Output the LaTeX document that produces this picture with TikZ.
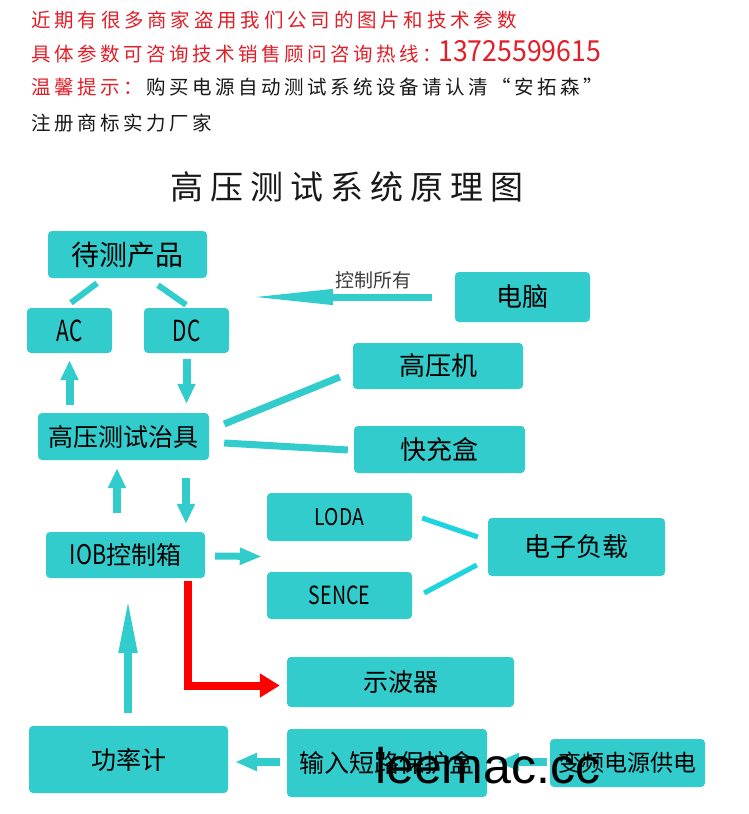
\documentclass[tikz,border=0pt]{standalone}
\usepackage{fontspec}
\setmainfont{Noto Sans CJK SC}
\newfontfamily\wmfont{Liberation Sans}
\usetikzlibrary{arrows.meta,calc}
\definecolor{boxc}{RGB}{51,204,204}
\definecolor{linec}{RGB}{51,204,204}
\definecolor{brightc}{RGB}{30,212,222}
\definecolor{hdrred}{RGB}{226,30,40}
\definecolor{txtc}{RGB}{25,25,25}
\definecolor{lblc}{RGB}{60,60,60}
\newcommand\fsz[1]{\fontsize{#1pt}{#1pt}\selectfont}
\newcommand\narrow[2]{\scalebox{#1}[1]{#2}}
\makeatletter
\newcommand\spacedtext[2]{\@tfor\spch:=#2\do{\makebox[#1][l]{\spch}}}
\makeatother
\tikzset{
  box/.style={fill=boxc, rounded corners=4pt, inner sep=0pt, text=black, font=\fsz{25}},
  hdr/.style={anchor=base west, inner sep=0pt, font=\fsz{19.5}},
  fat/.style={line width=8pt, draw=linec},
  bar/.style={line width=7pt, draw=linec},
  thinbar/.style={line width=5pt, draw=brightc},
  headv/.style={-{Triangle[length=20pt,width=17pt]}},
}
\begin{document}
\begin{tikzpicture}[x=1pt,y=-1pt]
\fill[white] (0,0) rectangle (749,814);
\useasboundingbox (0,0) rectangle (749,814);

% header
\node[hdr, text=hdrred] (h1) at (31,27) {\spacedtext{23.3pt}{近期有很多商家盗用我们公司的图片和技术参数}};
\node[hdr, text=hdrred] (h2) at (31,61) {\spacedtext{23pt}{具体参数可咨询技术销售顾问咨询热线}\makebox[16pt][l]{：}{\fsz{29}\narrow{0.92}{13725599615}}};
\node[hdr] (h3) at (31,94) {\textcolor{hdrred}{\spacedtext{23pt}{温馨提示：}}\textcolor{txtc}{\spacedtext{23pt}{购买电源自动测试系统设备请认清“安拓森”}}};
\node[hdr, text=txtc] (h4) at (31,130) {\spacedtext{23pt}{注册商标实力厂家}};
\node[anchor=base west, inner sep=0pt, font=\fsz{33}, text=txtc] (title) at (170,199) {\spacedtext{40pt}{高压测试系统原理图}};

% boxes
\node[box, minimum width=159pt, minimum height=47pt, font=\fsz{28}] (p) at (127.5,254.5) {待测产品};
\node[box, minimum width=85pt, minimum height=45pt, font=\fsz{29}] (ac) at (69.5,330.5) {\narrow{0.72}{AC}};
\node[box, minimum width=85pt, minimum height=45pt, font=\fsz{29}] (dc) at (186.5,330.5) {\narrow{0.72}{DC}};
\node[box, minimum width=135pt, minimum height=50pt, font=\fsz{26}] (pc) at (522.5,297) {电脑};
\node[box, minimum width=170pt, minimum height=46pt, font=\fsz{26}] (hv) at (438,366) {高压机};
\node[box, minimum width=171pt, minimum height=47pt] (fix) at (123.5,436.5) {高压测试治具};
\node[box, minimum width=171pt, minimum height=47pt, font=\fsz{26}] (fc) at (439.5,449.5) {快充盒};
\node[box, minimum width=145pt, minimum height=48pt, font=\fsz{23}] (loda) at (339.5,517) {\narrow{0.84}{LODA}};
\node[box, minimum width=145pt, minimum height=47pt, font=\fsz{25}] (sence) at (339.5,595.5) {\narrow{0.78}{SENCE}};
\node[box, minimum width=177pt, minimum height=58pt, font=\fsz{26}] (load) at (576.5,547) {电子负载};
\node[box, minimum width=159pt, minimum height=46pt] (iob) at (125.5,555) {\narrow{0.8}{\fsz{27}IOB}控制箱};
\node[box, minimum width=227pt, minimum height=50pt] (osc) at (400.5,682) {示波器};
\node[box, minimum width=199pt, minimum height=67pt] (pm) at (128.5,759.5) {功率计};
\node[box, minimum width=200pt, minimum height=68pt] (prot) at (387,763) {输入短路保护盒};
\node[box, minimum width=155pt, minimum height=48pt, font=\fsz{23}] (vf) at (627.5,763) {变频电源供电};

% label
\node[inner sep=0pt, font=\fsz{19}, text=lblc] (ctl) at (373.5,280) {控制所有};

% plain links
\draw[line width=6pt, draw=linec] ($(p.south)+(-30.5,5)$) -- ($(ac.north)+(1.5,-5)$);
\draw[line width=6pt, draw=linec] ($(p.south)+(30.5,7)$) -- ($(dc.north)+(-0.5,-3)$);
\draw[bar] ($(fix.east)+(15,-12.5)$) -- ($(hv.west)+(-13,11)$);
\draw[bar] ($(fix.east)+(15,6.5)$) -- ($(fc.west)+(-6,0.5)$);
\draw[thinbar] ($(loda.east)+(10,1)$) -- ($(load.west)+(-10,-10)$);
\draw[thinbar] ($(sence.east)+(12,-2.5)$) -- ($(load.west)+(-11,18)$);

% arrows
\draw[line width=7pt, draw=linec, -{Triangle[length=87pt,width=14pt]}] ($(pc.west)+(-23,0)$) -- ($(pc.west)+(-209,0)$);
\draw[fat, headv] ($(fix.north -| ac)+(0,-8)$) -- ($(ac.south)+(0,7)$);
\draw[fat, headv] ($(dc.south)+(0,6)$) -- ($(fix.north -| dc)+(0,-9)$);
\draw[fat, headv] ($(iob.north)+(-8.5,-19)$) -- ($(fix.south)+(-6.5,8)$);
\draw[fat, headv] ($(fix.south)+(62.5,18)$) -- ($(iob.north)+(60.5,-8)$);
\draw[line width=7pt, draw=linec, -{Triangle[length=22pt,width=16pt]}] ($(iob.east)+(10,1)$) -- ($(loda.south west)!0.5!(sence.north west)+(-5,0)$);
\draw[fat, -{Triangle[length=56pt,width=17pt]}] ($(pm.north)+(-0.5,-13)$) -- ($(iob.south)+(2.5,19)$);
\draw[fat, -{Triangle[length=22pt,width=17pt]}] ($(prot.west)+(-7,-1)$) -- ($(pm.east)+(7,2.5)$);
\draw[fat, -{Triangle[length=22pt,width=17pt]}] ($(vf.west)+(-3,-1)$) -- ($(prot.east)+(10,-1)$);
\draw[line width=8pt, draw=red, line join=miter, -{Triangle[length=20pt,width=23pt]}] ($(iob.south)+(62.5,3)$) |- ($(osc.west)+(-7,3.5)$);

% watermark
\node[anchor=base west, inner sep=0pt, font=\wmfont\fsz{50}, text=black] (wm) at (375,783) {leemac.cc};
\end{tikzpicture}
\end{document}
